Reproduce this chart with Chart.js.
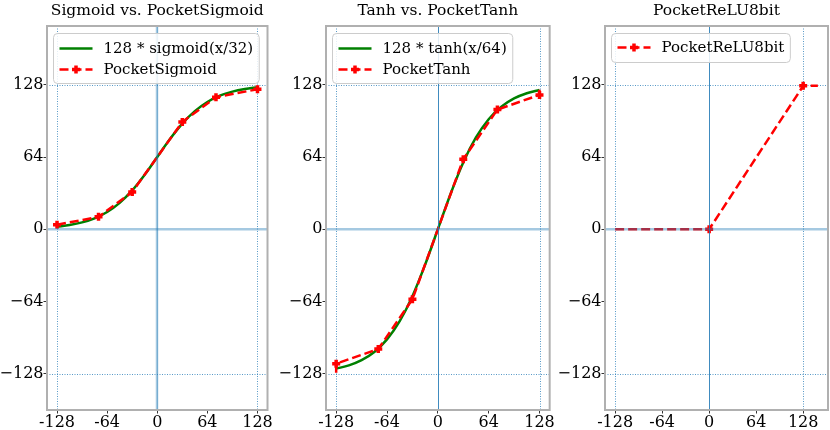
<!DOCTYPE html>
<html>
<head>
<meta charset="utf-8">
<script src="https://cdn.jsdelivr.net/npm/chart.js@4.4.0/dist/chart.umd.min.js"></script>
<style>
  body { margin: 0; background: #fff; }
  .panel { position: absolute; top: 0; }
</style>
</head>
<body>
<canvas id="g1" class="panel" width="275" height="430" style="left:0px"></canvas>
<canvas id="g2" class="panel" width="275" height="430" style="left:280px"></canvas>
<canvas id="g3" class="panel" width="275" height="430" style="left:555px"></canvas>
<script>
// ---- DATOS ----
const curvaX = [-128, -112, -96, -80, -64, -48, -32, -16, 0, 16, 32, 48, 64, 80, 96, 112, 128]
const sigmoideY = [2.3, 3.8, 6.1, 9.7, 15.3, 23.4, 34.4, 48.3, 64, 79.7, 93.6, 104.6, 112.7, 118.3, 121.9, 124.2, 125.7]
const tanhY = [-123.4, -120.5, -115.9, -108.6, -97.5, -81.3, -59.2, -31.3, 0, 31.3, 59.2, 81.3, 97.5, 108.6, 115.9, 120.5, 123.4]

const pocketSigX = [-128, -75, -32, 32, 75, 128]
const pocketSigY = [4, 11, 33, 95, 117, 124]

const pocketTanhX = [-128, -128, -75, -32, 32, 75, 128, 128]
const pocketTanhY = [-127, -119, -106, -62, 62, 106, 119, 127]
const pocketTanhMarca = [0, 1, 1, 1, 1, 1, 1, 0]

const reluX = [-128, 0, 128, 148]
const reluY = [0, 0, 127, 127]
const reluMarca = [0, 1, 1, 0]

const ticksX = [-128, -64, 0, 64, 128]
const ticksY = [-128, -64, 0, 64, 128]
const guias = [-128, 128]

const serif = "'DejaVu Serif', serif"

// ---- PARES X,Y PARA CHART.JS ----
function pares(xs, ys){
    return xs.map((x, i) => ({x: x, y: ys[i]}))
}

// ---- PLUGIN: TITULO, LINEAS GUIA, EJES EN CERO, MARCO Y LEYENDA ----
function dibujarCruz(ctx, cx, cy, r){
    ctx.beginPath()
    ctx.moveTo(cx - r, cy); ctx.lineTo(cx + r, cy)
    ctx.moveTo(cx, cy - r); ctx.lineTo(cx, cy + r)
    ctx.stroke()
}

function linea(ctx, x1, y1, x2, y2){
    ctx.beginPath(); ctx.moveTo(x1, y1); ctx.lineTo(x2, y2); ctx.stroke()
}

const extras = {
    id: 'extras',
    beforeDatasetsDraw(chart){
        const {ctx, chartArea: a, scales: {x, y}} = chart
        ctx.save()
        ctx.strokeStyle = 'rgba(31,119,180,0.75)'
        ctx.lineWidth = 1
        ctx.setLineDash([1, 1.5])
        guias.forEach(v => {
            let px = Math.round(x.getPixelForValue(v)) + 0.5
            linea(ctx, px, a.top, px, a.bottom)
            let py = Math.round(y.getPixelForValue(v)) + 0.5
            linea(ctx, a.left, py, a.right, py)
        })
        ctx.restore()
    },
    afterDatasetsDraw(chart, args, opts){
        const {ctx, chartArea: a, scales: {x, y}} = chart
        ctx.save()
        let py = y.getPixelForValue(0)
        let px = Math.round(x.getPixelForValue(0))
        ctx.strokeStyle = 'rgba(31,119,180,0.4)'
        ctx.lineWidth = 2.5
        linea(ctx, a.left, py, a.right, py)
        if (opts.ejeSuave){
            linea(ctx, px, a.top, px, a.bottom)
            ctx.strokeStyle = 'rgba(31,119,180,0.35)'
            ctx.lineWidth = 1
            linea(ctx, px + 0.5, a.top, px + 0.5, a.bottom)
        }else{
            ctx.strokeStyle = 'rgba(31,119,180,0.85)'
            ctx.lineWidth = 1
            linea(ctx, px + 0.5, a.top, px + 0.5, a.bottom)
        }
        ctx.restore()
    },
    afterDraw(chart, args, opts){
        const {ctx, chartArea: a} = chart
        ctx.save()
        // marco
        ctx.strokeStyle = '#b0b0b0'
        ctx.lineWidth = 2
        ctx.strokeRect(a.left, a.top, a.right - a.left, a.bottom - a.top)

        // titulo centrado sobre el area del grafico
        ctx.fillStyle = '#000'
        ctx.font = `15.5px ${serif}`
        ctx.textAlign = 'center'
        ctx.textBaseline = 'alphabetic'
        ctx.fillText(opts.titulo, (a.left + a.right) / 2, 15)

        // leyenda
        const ds = chart.data.datasets
        ctx.textAlign = 'left'
        ctx.font = `15px ${serif}`
        let anchoTexto = Math.max(...ds.map(d => ctx.measureText(d.label).width))
        let bx = a.left + 6.5, by = a.top + 7.5
        let bw = anchoTexto + 56, bh = ds.length * 21 + 8
        ctx.fillStyle = 'rgba(255,255,255,0.85)'
        ctx.strokeStyle = '#cccccc'
        ctx.lineWidth = 1
        ctx.beginPath()
        ctx.roundRect(bx, by, bw, bh, 4)
        ctx.fill(); ctx.stroke()
        ds.forEach((d, i) => {
            let cy = by + (ds.length > 1 ? 15 : 14) + i * 21
            ctx.strokeStyle = d.borderColor
            ctx.lineWidth = d.borderWidth
            ctx.setLineDash(d.borderDash || [])
            linea(ctx, bx + 6, cy, bx + 39, cy)
            ctx.setLineDash([])
            if (d.pointStyle){
                ctx.lineWidth = 3.5
                dibujarCruz(ctx, bx + 22.5, cy, 4)
            }
            ctx.fillStyle = '#000'
            ctx.textBaseline = 'middle'
            ctx.fillText(d.label, bx + 50, cy + 1)
        })
        ctx.restore()
    }
}

// ---- DATASETS ----
function serieVerde(label, ys){
    return {
        label: label,
        data: pares(curvaX, ys),
        borderColor: 'green',
        borderWidth: 2.5,
        pointRadius: 0,
        cubicInterpolationMode: 'monotone',
        order: 2
    }
}

function seriePocket(label, xs, ys, marcas){
    return {
        label: label,
        data: pares(xs, ys),
        borderColor: '#ff0000',
        borderWidth: 2.5,
        borderDash: [9, 4],
        tension: 0,
        pointStyle: 'cross',
        pointRadius: marcas ? marcas.map(m => m ? 4 : 0) : 4,
        pointBorderWidth: 3.5,
        pointBorderColor: '#ff0000',
        pointBackgroundColor: '#ff0000',
        order: 1
    }
}

// ---- CONFIGURACION DE CADA PANEL ----
function crearPanel(id, titulo, datasets, cfg){
    const config = {
        type: 'line',
        data: {datasets: datasets},
        options: {
            responsive: false,
            animation: false,
            devicePixelRatio: 1,
            layout: {padding: {left: 0, right: cfg.derecha, top: 26, bottom: 0}},
            plugins: {
                legend: {display: false},
                tooltip: {enabled: false},
                title: {display: false},
                extras: {ejeSuave: cfg.ejeSuave, titulo: titulo}
            },
            scales: {
                x: {
                    type: 'linear',
                    min: cfg.xMin,
                    max: cfg.xMax,
                    afterBuildTicks: s => { s.ticks = ticksX.map(v => ({value: v})) },
                    afterFit: s => { s.height = 20 },
                    ticks: {
                        color: '#000',
                        font: {family: serif, size: 16},
                        padding: 0,
                        maxRotation: 0,
                        autoSkip: false,
                        callback: v => String(v)
                    },
                    grid: {drawOnChartArea: false, color: '#333', tickLength: 3.5},
                    border: {display: false}
                },
                y: {
                    type: 'linear',
                    min: -160,
                    max: 180,
                    afterBuildTicks: s => { s.ticks = ticksY.map(v => ({value: v})) },
                    afterFit: s => { s.width = cfg.anchoY },
                    ticks: {
                        color: '#000',
                        font: {family: serif, size: 16},
                        padding: 0,
                        autoSkip: false,
                        callback: v => v < 0 ? '\u2212' + Math.abs(v) : String(v)
                    },
                    grid: {drawOnChartArea: false, color: '#333', tickLength: 3.5},
                    border: {display: false}
                }
            }
        },
        plugins: [extras]
    }
    return new Chart(document.querySelector(id), config)
}

crearPanel('#g1', 'Sigmoid vs. PocketSigmoid', [
    serieVerde('128 * sigmoid(x/32)', sigmoideY),
    seriePocket('PocketSigmoid', pocketSigX, pocketSigY)
], {xMin: -140.8, xMax: 140.8, anchoY: 47, derecha: 6, ejeSuave: true})

crearPanel('#g2', 'Tanh vs. PocketTanh', [
    serieVerde('128 * tanh(x/64)', tanhY),
    seriePocket('PocketTanh', pocketTanhX, pocketTanhY, pocketTanhMarca)
], {xMin: -140.8, xMax: 140.8, anchoY: 46, derecha: 5, ejeSuave: false})

crearPanel('#g3', 'PocketReLU8bit', [
    seriePocket('PocketReLU8bit', reluX, reluY, reluMarca)
], {xMin: -141.8, xMax: 161.8, anchoY: 50, derecha: 2, ejeSuave: false})
</script>
</body>
</html>
